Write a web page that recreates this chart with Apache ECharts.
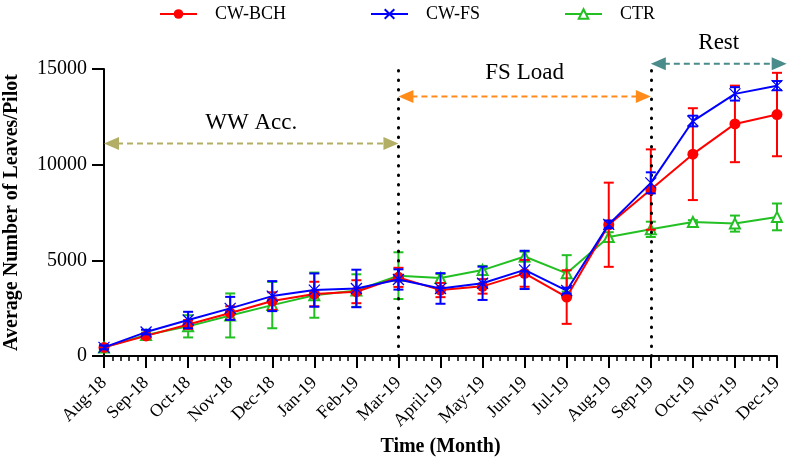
<!DOCTYPE html>
<html>
<head>
<meta charset="utf-8">
<script src="https://cdn.jsdelivr.net/npm/echarts@6/dist/echarts.min.js"></script>
<style>
html,body{margin:0;padding:0;background:#fff;}
#chart{width:789px;height:458px;}
</style>
</head>
<body>
<div id="chart"></div>
<script>
// ---- data ----
const months = ['Aug-18','Sep-18','Oct-18','Nov-18','Dec-18','Jan-19','Feb-19','Mar-19','April-19','May-19','Jun-19','Jul-19','Aug-19','Sep-19','Oct-19','Nov-19','Dec-19'];
const bch    = [450, 1050, 1650, 2250, 2870, 3240, 3360, 4110, 3445, 3640, 4320, 3080, 6860, 8700, 10550, 12130, 12620];
const bchErr = [100, 120, 230, 350, 460, 640, 600, 500, 370, 380, 700, 1400, 2200, 2100, 2400, 2000, 2180];
const fs     = [450, 1250, 1880, 2490, 3130, 3445, 3530, 4000, 3530, 3800, 4500, 3420, 6880, 9050, 12280, 13700, 14130];
const fsErr  = [100, 120, 430, 600, 785, 870, 980, 530, 800, 870, 1000, 150, 200, 550, 280, 350, 240];
const ctr    = [450, 1100, 1550, 2120, 2660, 3180, 3420, 4200, 4080, 4490, 5200, 4320, 6220, 6620, 7000, 6920, 7270];
const ctrErr = [100, 120, 580, 1150, 1210, 1180, 850, 1220, 200, 220, 250, 950, 250, 400, 100, 420, 700];
const yTicks = [0, 5000, 10000, 15000];
const phaseNames = ['WW Acc.', 'FS Load', 'Rest'];
const phaseFrom  = [0, 7, 13];
const phaseTo    = [7, 13, 16.23];
const phaseLevel = [11100, 13560, 15280];
const phaseLabelLevel = [12160, 14770, 16350];
const phaseBounds = [7, 13];

// ---- styles ----
const FONT = "'Liberation Serif','Times New Roman',serif";
const RED = '#ff0000', BLUE = '#0000ff', GREEN = '#22c022';
const phaseColors = ['#b3ae66', '#ff8c1a', '#4a8b8b'];

function pts(arr){ return arr.map((v,i)=>[i,v]); }
function errData(mean, err){ return mean.map((v,i)=>[i, v-err[i], v+err[i]]); }
function errRender(color){
  return function(params, api){
    const x = api.value(0);
    const lo = api.coord([x, api.value(1)]);
    const hi = api.coord([x, api.value(2)]);
    const w = 5;
    const st = {stroke: color, lineWidth: 2};
    return {type:'group', children:[
      {type:'line', shape:{x1:lo[0], y1:lo[1], x2:hi[0], y2:hi[1]}, style:st},
      {type:'line', shape:{x1:hi[0]-w, y1:hi[1], x2:hi[0]+w, y2:hi[1]}, style:st},
      {type:'line', shape:{x1:lo[0]-w, y1:lo[1], x2:lo[0]+w, y2:lo[1]}, style:st}
    ]};
  };
}
function arrowRender(params, api){
  const i = params.dataIndex;
  const color = phaseColors[i];
  const a = api.coord([api.value(0), api.value(2)]);
  const b = api.coord([api.value(1), api.value(2)]);
  const t = api.coord([(api.value(0)+api.value(1))/2, api.value(3)]);
  const hl = 15, hh = 6.5;
  const y = a[1];
  return {type:'group', children:[
    {type:'line', shape:{x1:a[0]+hl-2, y1:y, x2:b[0]-hl+2, y2:y},
      style:{stroke: color, lineWidth: 2, lineDash:[6,4]}},
    {type:'polygon', shape:{points:[[a[0],y],[a[0]+hl,y-hh],[a[0]+hl,y+hh]]}, style:{fill: color}},
    {type:'polygon', shape:{points:[[b[0],y],[b[0]-hl,y-hh],[b[0]-hl,y+hh]]}, style:{fill: color}},
    {type:'text', x:t[0], y:t[1], style:{text: phaseNames[i], fill:'#000', font:'23px ' + FONT, align:'center', verticalAlign:'middle'}}
  ]};
}

const chart = echarts.init(document.getElementById('chart'));
chart.setOption({
  animation: false,
  backgroundColor: '#fff',
  legend: {
    data: ['CW-BCH','CW-FS','CTR'],
    top: 0, left: 154, padding: 5,
    itemWidth: 37, itemHeight: 12, itemGap: 84,
    textStyle: {fontFamily: FONT, fontSize: 18, color: '#000', padding: [0,0,0,13]}
  },
  grid: {left: 104, right: 12, top: 69, bottom: 102, containLabel: false, outerBoundsMode: 'none'},
  xAxis: {
    type: 'value', min: 0, max: 16, interval: 1,
    name: 'Time (Month)', nameLocation: 'middle', nameGap: 81,
    nameTextStyle: {fontFamily: FONT, fontSize: 20, fontWeight: 'bold', color: '#000'},
    axisLine: {show: true, onZero: false, lineStyle: {color: '#000', width: 2}},
    axisTick: {show: true, length: 12, lineStyle: {color: '#000', width: 2}},
    minorTick: {show: true, splitNumber: 5, length: 5, lineStyle: {color: '#000', width: 1.5}},
    splitLine: {show: false}, minorSplitLine: {show: false},
    axisLabel: {rotate: 45, margin: 24, fontFamily: FONT, fontSize: 18, color: '#000',
      formatter: v => months[v] || ''}
  },
  yAxis: {
    type: 'value', min: yTicks[0], max: yTicks[yTicks.length-1], interval: yTicks[1]-yTicks[0],
    name: 'Average Number of Leaves/Pilot', nameLocation: 'middle', nameGap: 82,
    nameTextStyle: {fontFamily: FONT, fontSize: 20, fontWeight: 'bold', color: '#000'},
    axisLine: {show: true, lineStyle: {color: '#000', width: 2}},
    axisTick: {show: true, length: 12, lineStyle: {color: '#000', width: 2}},
    splitLine: {show: false},
    axisLabel: {margin: 17, fontFamily: FONT, fontSize: 20, color: '#000', formatter: v => String(v)}
  },
  series: [
    {type:'custom', name:'ctrErr', renderItem: errRender(GREEN), data: errData(ctr, ctrErr),
      encode:{x:0, y:[1,2]}, z: 2, silent: true},
    {type:'line', name:'CTR', data: pts(ctr), z: 3,
      symbol:'emptyTriangle', symbolSize: 10,
      lineStyle:{color: GREEN, width: 2},
      itemStyle:{color: GREEN, borderColor: GREEN, borderWidth: 1.5},
      markLine: {silent: true, symbol: ['none','none'], label:{show:false},
        lineStyle:{color:'#000', width: 3, type:[0.5, 9], cap:'round'},
        data: phaseBounds.map(v => ({xAxis: v}))}
    },
    {type:'custom', name:'bchErr', renderItem: errRender(RED), data: errData(bch, bchErr),
      encode:{x:0, y:[1,2]}, z: 4, silent: true},
    {type:'line', name:'CW-BCH', data: pts(bch), z: 5,
      symbol:'circle', symbolSize: 11,
      lineStyle:{color: RED, width: 2},
      itemStyle:{color: RED}},
    {type:'custom', name:'fsErr', renderItem: errRender(BLUE), data: errData(fs, fsErr),
      encode:{x:0, y:[1,2]}, z: 6, silent: true},
    {type:'line', name:'CW-FS', data: pts(fs), z: 7,
      symbol:'path://M0,0L10,10M10,0L0,10', symbolSize: 11,
      lineStyle:{color: BLUE, width: 2},
      itemStyle:{color: BLUE, borderColor: BLUE, borderWidth: 1.3}},
    {type:'custom', name:'phases', renderItem: arrowRender, clip: false, silent: true, z: 8,
      data: phaseNames.map((n,i)=>[phaseFrom[i], phaseTo[i], phaseLevel[i], phaseLabelLevel[i]]),
      encode:{x:[0,1], y:[2,3]}}
  ]
});
</script>
</body>
</html>
